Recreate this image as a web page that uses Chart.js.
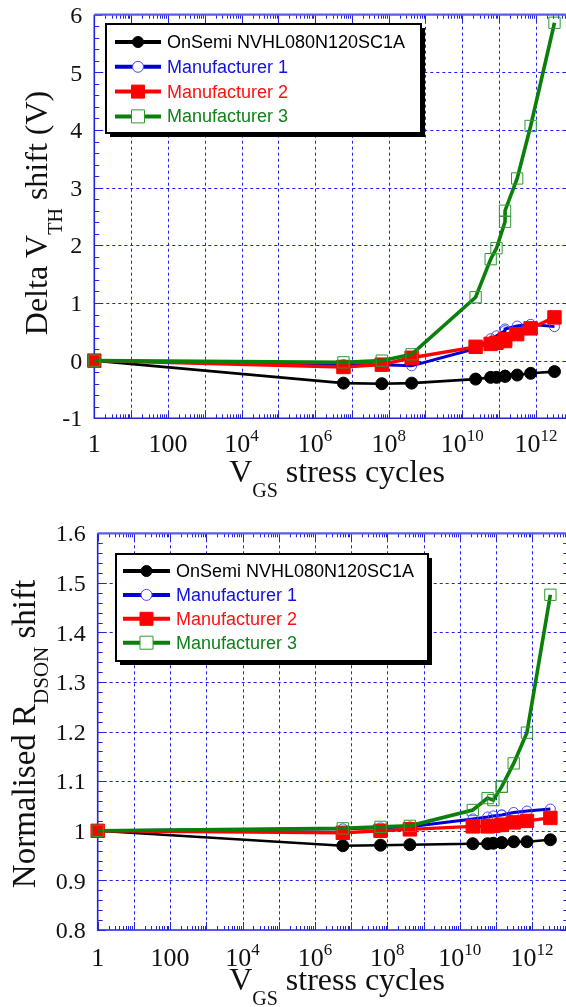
<!DOCTYPE html>
<html>
<head>
<meta charset="utf-8">
<title>VGS stress cycles</title>
<script src="https://cdn.jsdelivr.net/npm/chart.js@4.4.1/dist/chart.umd.min.js"></script>
<style>
    html, body { margin: 0; padding: 0; background: #fff; overflow: hidden; width: 566px; height: 1007px; }
    canvas { position: absolute; left: 0; }
    #vth-chart { top: 0; }
    #rdson-chart { top: 500px; }
</style>
</head>
<body>
<canvas id="vth-chart" width="600" height="500"></canvas>
<canvas id="rdson-chart" width="600" height="507"></canvas>
<script>
// Stress cycle counts where the devices were measured (shared by every series)
const cycles = [1, 5.9e6, 6.5e7, 4.2e8, 2.3e10, 5.9e10, 8.5e10, 1.45e11, 1.45e11, 3.1e11, 7.2e11, 3.2e12];

const seriesNames = ['OnSemi NVHL080N120SC1A', 'Manufacturer 1', 'Manufacturer 2', 'Manufacturer 3'];

// Delta VTH shift (V)
const onsemiVth = [0, -0.39, -0.40, -0.39, -0.32, -0.29, -0.29, -0.27, -0.27, -0.25, -0.22, -0.19];
const mfr1Vth   = [0, -0.07, -0.07, -0.09, 0.21, 0.38, 0.43, 0.52, 0.55, 0.60, 0.63, 0.59];
const mfr2Vth   = [0, -0.11, -0.07, 0.05, 0.24, 0.29, 0.31, 0.34, 0.37, 0.46, 0.56, 0.75];
const mfr3Vth   = [0, -0.03, 0.00, 0.11, 1.10, 1.76, 1.95, 2.41, 2.60, 3.16, 4.07, 5.86];

// Normalised RDSON shift
const onsemiRds = [1, 0.970, 0.971, 0.972, 0.974, 0.974, 0.975, 0.976, 0.976, 0.978, 0.978, 0.982];
const mfr1Rds   = [1, 1.004, 1.006, 1.008, 1.024, 1.028, 1.030, 1.032, 1.032, 1.037, 1.040, 1.044];
const mfr2Rds   = [1, 0.996, 1.000, 1.003, 1.009, 1.009, 1.010, 1.012, 1.012, 1.017, 1.020, 1.026];
const mfr3Rds   = [1, 1.005, 1.008, 1.010, 1.042, 1.066, 1.062, 1.089, 1.089, 1.136, 1.198, 1.476];

// Axis ticks
const decades = [1, 1e1, 1e2, 1e3, 1e4, 1e5, 1e6, 1e7, 1e8, 1e9, 1e10, 1e11, 1e12, 1e13];
const xLabelPowers = [0, 2, 4, 6, 8, 10, 12];
const vthTicks = [-1, 0, 1, 2, 3, 4, 5, 6];
const rdsTicks = [0.8, 0.9, 1.0, 1.1, 1.2, 1.3, 1.4, 1.5, 1.6];

const SERIF = '"Liberation Serif", "Times New Roman", serif';
const SANS = '"Liberation Sans", Arial, sans-serif';
const GRID_COLOR = '#1f1ff5';
const AXIS_COLOR = '#2424dc';

// Look of each series, in legend order
const seriesStyles = [
    { line: '#000000', width: 2.6, point: 'circle', radius: 6, fill: '#000000', edge: '#000000', text: '#000000', order: 4 },
    { line: '#0000d4', width: 3, point: 'circle', radius: 5, fill: 'rgba(0,0,0,0)', edge: '#4646ff', text: '#1010e0', order: 3 },
    { line: '#ff0000', width: 3.4, point: 'rect', radius: 9.5, fill: '#ff0000', edge: '#ff0000', text: '#ff1010', order: 2 },
    { line: '#0a800a', width: 3.6, point: 'rect', radius: 8, fill: 'rgba(0,0,0,0)', edge: '#2e9a2e', text: '#10801a', order: 1 }
];

const makeDatasets = (valueLists) => valueLists.map((values, i) => {
    const s = seriesStyles[i];
    return {
        label: seriesNames[i],
        data: cycles.map((c, j) => ({ x: c, y: values[j] })),
        borderColor: s.line,
        borderWidth: s.width,
        backgroundColor: s.fill,
        pointStyle: s.point,
        pointRadius: s.radius,
        pointBackgroundColor: s.fill,
        pointBorderColor: s.edge,
        pointBorderWidth: 1,
        tension: 0,
        clip: false,
        order: s.order
    };
});

// Draw a row of text runs (main text, subscripts, superscripts) starting at x
const runsWidth = (ctx, runs) => runs.reduce((w, r) => {
    ctx.font = `${r.size}px ${SERIF}`;
    return w + ctx.measureText(r.text).width;
}, 0);

const drawRuns = (ctx, runs, x, y) => {
    let cx = x;
    runs.forEach(r => {
        ctx.font = `${r.size}px ${SERIF}`;
        ctx.fillText(r.text, cx, y + (r.dy || 0));
        cx += ctx.measureText(r.text).width;
    });
};

const xLabelRuns = (p) => {
    if (p === 0) return [{ text: '1', size: 26 }];
    if (p === 2) return [{ text: '100', size: 26 }];
    return [{ text: '10', size: 26 }, { text: String(p), size: 17, dy: -11 }];
};

const frameFor = (cfg) => ({
    id: 'paperFrame',
    beforeDatasetsDraw(chart) {
        const { ctx, chartArea: a, scales: { x, y } } = chart;
        ctx.save();

        // dashed grid at every decade and every major y value
        ctx.strokeStyle = GRID_COLOR;
        ctx.lineWidth = 1;
        ctx.setLineDash([3, 3]);
        ctx.beginPath();
        decades.forEach(v => {
            if (v <= x.min || v >= x.max) return;
            const px = Math.round(x.getPixelForValue(v)) + 0.5;
            ctx.moveTo(px, a.top);
            ctx.lineTo(px, a.bottom);
        });
        cfg.yTicks.forEach(v => {
            if (v <= y.min + 1e-9 || v >= y.max - 1e-9) return;
            const py = Math.round(y.getPixelForValue(v)) + 0.5;
            ctx.moveTo(a.left, py);
            ctx.lineTo(a.right, py);
        });
        ctx.stroke();
        ctx.setLineDash([]);

        // inward ticks on all four sides
        ctx.strokeStyle = AXIS_COLOR;
        ctx.lineWidth = 1;
        ctx.beginPath();
        decades.forEach(d => {
            for (let k = 1; k <= 9; k++) {
                const v = k * d;
                if (v < x.min || v > x.max) continue;
                const px = Math.round(x.getPixelForValue(v)) + 0.5;
                const len = k === 1 ? 8 : 4;
                ctx.moveTo(px, a.bottom);
                ctx.lineTo(px, a.bottom - len);
                ctx.moveTo(px, a.top);
                ctx.lineTo(px, a.top + len);
            }
        });
        const nMinor = Math.round((y.max - y.min) / cfg.yMinor);
        for (let i = 0; i <= nMinor; i++) {
            const py = Math.round(y.getPixelForValue(y.min + i * cfg.yMinor)) + 0.5;
            const len = i % 5 === 0 ? 8 : 5;
            ctx.moveTo(a.left, py);
            ctx.lineTo(a.left + len, py);
            ctx.moveTo(a.right, py);
            ctx.lineTo(a.right - len, py);
        }
        ctx.stroke();

        // frame
        ctx.lineWidth = 1.6;
        ctx.beginPath();
        ctx.moveTo(a.left, a.top);
        ctx.lineTo(a.left, a.bottom);
        ctx.lineTo(a.right, a.bottom);
        ctx.lineTo(a.right, a.top);
        ctx.stroke();
        ctx.strokeStyle = '#5a5aec';
        ctx.lineWidth = 2.2;
        ctx.beginPath();
        ctx.moveTo(a.left, a.top);
        ctx.lineTo(a.right, a.top);
        ctx.stroke();
        ctx.restore();
    },
    afterDatasetsDraw(chart) {
        const { ctx } = chart;
        const L = cfg.legend;
        ctx.save();
        // box with drop shadow
        ctx.fillStyle = '#000';
        ctx.fillRect(L.left + 4, L.top + 4, L.width, L.height);
        ctx.fillStyle = '#fff';
        ctx.fillRect(L.left, L.top, L.width, L.height);
        ctx.strokeStyle = '#000';
        ctx.lineWidth = 2;
        ctx.strokeRect(L.left, L.top, L.width, L.height);

        chart.data.datasets.forEach((ds, i) => {
            const s = seriesStyles[i];
            const ry = L.top + L.firstRow + i * L.rowGap;
            ctx.strokeStyle = s.line;
            ctx.lineWidth = 4;
            ctx.beginPath();
            ctx.moveTo(L.lineX1, ry);
            ctx.lineTo(L.lineX2, ry);
            ctx.stroke();

            const mx = (L.lineX1 + L.lineX2) / 2;
            ctx.fillStyle = s.fill === '#000000' || s.fill === '#ff0000' ? s.fill : '#fff';
            ctx.strokeStyle = s.edge;
            ctx.lineWidth = 1;
            ctx.beginPath();
            if (s.point === 'circle') {
                ctx.arc(mx, ry, 5.5, 0, Math.PI * 2);
            } else {
                ctx.rect(mx - 6.5, ry - 6.5, 13, 13);
            }
            ctx.fill();
            ctx.stroke();

            ctx.fillStyle = s.text;
            ctx.font = `18px ${SANS}`;
            ctx.textBaseline = 'middle';
            ctx.textAlign = 'left';
            ctx.fillText(ds.label, L.textX, ry + 1);
        });
        ctx.restore();
    },
    afterDraw(chart) {
        const { ctx, chartArea: a, scales: { x, y } } = chart;
        ctx.save();
        ctx.fillStyle = '#111';
        ctx.textAlign = 'left';
        ctx.textBaseline = 'alphabetic';

        // y tick labels
        cfg.yTicks.forEach(v => {
            const py = y.getPixelForValue(v);
            const txt = String(Math.round(v * 10) / 10);
            ctx.font = `${cfg.yFont}px ${SERIF}`;
            const w = ctx.measureText(txt).width;
            ctx.fillText(txt, a.left - cfg.yLabelGap - w, py + cfg.yFont * 0.34);
        });

        // x tick labels
        xLabelPowers.forEach(p => {
            const px = x.getPixelForValue(Math.pow(10, p));
            const runs = xLabelRuns(p);
            drawRuns(ctx, runs, px - runsWidth(ctx, runs) / 2, cfg.xLabelBase);
        });

        // x title
        const xt = [
            { text: 'V', size: 32 },
            { text: 'GS', size: 20, dy: 15 },
            { text: ' stress cycles', size: 32 }
        ];
        drawRuns(ctx, xt, cfg.xTitleCenter - runsWidth(ctx, xt) / 2, cfg.xTitleBase);

        // y title, rotated
        ctx.translate(cfg.yTitleBase, cfg.yTitleCenter);
        ctx.rotate(-Math.PI / 2);
        drawRuns(ctx, cfg.yTitle, -runsWidth(ctx, cfg.yTitle) / 2, 0);
        ctx.restore();
    }
});

const buildChart = (id, valueLists, yMin, yMax, cfg, layout) => new Chart(document.getElementById(id), {
    type: 'line',
    data: { datasets: makeDatasets(valueLists) },
    options: {
        responsive: false,
        animation: false,
        events: [],
        layout: { padding: layout.padding },
        plugins: { legend: { display: false }, tooltip: { enabled: false } },
        scales: {
            x: {
                type: 'logarithmic', min: 1, max: 1e13,
                ticks: { display: false }, grid: { display: false }, border: { display: false },
                afterFit: (s) => { s.height = layout.xAxisHeight; }
            },
            y: {
                type: 'linear', min: yMin, max: yMax,
                ticks: { display: false }, grid: { display: false }, border: { display: false },
                afterFit: (s) => { s.width = layout.yAxisWidth; }
            }
        }
    },
    plugins: [frameFor(cfg)]
});

buildChart('vth-chart', [onsemiVth, mfr1Vth, mfr2Vth, mfr3Vth], -1, 6, {
    yTicks: vthTicks,
    yMinor: 0.2,
    yFont: 24,
    yLabelGap: 12,
    xLabelBase: 452,
    xTitleBase: 482,
    xTitleCenter: 337,
    yTitleBase: 47,
    yTitleCenter: 213,
    yTitle: [
        { text: 'Delta V', size: 32 },
        { text: 'TH', size: 20, dy: 15 },
        { text: ' shift (V)', size: 32 }
    ],
    legend: { left: 106, top: 24, width: 315, height: 109, firstRow: 18, rowGap: 24.8, lineX1: 115, lineX2: 161, textX: 167 }
}, { padding: { top: 14.7, right: 27.3, bottom: 0, left: 0 }, xAxisHeight: 81.7, yAxisWidth: 94.3 });

buildChart('rdson-chart', [onsemiRds, mfr1Rds, mfr2Rds, mfr3Rds], 0.8, 1.6, {
    yTicks: rdsTicks,
    yMinor: 0.02,
    yFont: 24,
    yLabelGap: 12,
    xLabelBase: 466,
    xTitleBase: 490,
    xTitleCenter: 337,
    yTitleBase: 35,
    yTitleCenter: 234,
    yTitle: [
        { text: 'Normalised R', size: 33 },
        { text: 'DSON', size: 21, dy: 13 },
        { text: ' shift', size: 33 }
    ],
    legend: { left: 116, top: 54, width: 312, height: 107, firstRow: 17, rowGap: 23.9, lineX1: 123, lineX2: 170, textX: 176 }
}, { padding: { top: 33.3, right: 31.7, bottom: 0, left: 0 }, xAxisHeight: 77, yAxisWidth: 97.7 });
</script>
</body>
</html>
